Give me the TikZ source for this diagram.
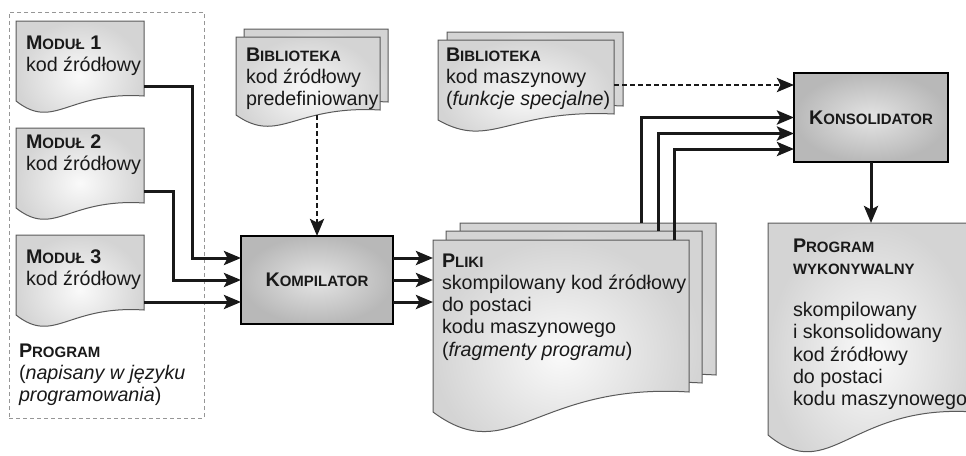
\documentclass[tikz,border=0pt]{standalone}
\usepackage{fontspec}
\setmainfont{Liberation Sans}
\usetikzlibrary{arrows.meta,calc}

\definecolor{docedge}{RGB}{90,90,90}
\definecolor{docin}{RGB}{250,250,250}
\definecolor{docout}{RGB}{212,212,212}
\definecolor{boxin}{RGB}{228,228,228}
\definecolor{boxout}{RGB}{184,184,184}
\definecolor{framegray}{RGB}{150,150,150}
\definecolor{ink}{RGB}{25,25,25}

% bold heading with small-caps tail
\newcommand\hd[2]{\textbf{#1{\fontsize{15pt}{22pt}\selectfont #2}}}
% fixed height of the first text line
\newcommand\fl{\rule{0pt}{16pt}}

% document page: holder node, width, left height, right height, wave depth
\newcommand\docshape[5]{%
  \path[docpage] (#1.north west) -- ++(#2,0) -- ++(0,#4)
    .. controls +(-0.6*#2,-0.5*#5) and +(0.3*#2,3*#5) .. ++(-#2,#3-#4) -- cycle;}

\tikzset{
  every node/.style={inner sep=0pt, outer sep=0pt, text=ink,
    font=\fontsize{19.7pt}{22.3pt}\selectfont},
  holder/.style={anchor=north west, draw=none},
  docpage/.style={draw=docedge, line width=1pt, inner color=docin, outer color=docout},
  txt/.style={anchor=north west, align=left},
  procbox/.style={draw=black, line width=2.8pt, inner color=boxin, outer color=boxout},
  frame/.style={draw=framegray, dash pattern=on 4pt off 3pt, line width=0.9pt,
    anchor=north west},
  tip/.tip={Stealth[length=17pt,width=14pt,inset=3.5pt]},
  conn/.style={draw=ink, line width=3pt, -tip},
  dconn/.style={draw=ink, line width=2.8pt, dash pattern=on 5pt off 3pt, -tip},
}

\begin{document}
\begin{tikzpicture}[x=1pt,y=-1pt]
\useasboundingbox (0,0) rectangle (966,455);
\clip (0,0) rectangle (966,455);

% frame around the source program
\node[frame, minimum width=195pt, minimum height=406pt] (progframe) at (9,12) {};

% page holders
\node[holder, minimum width=128pt, minimum height=80pt] (m1) at (16,21) {};
\node[holder, minimum width=128pt, minimum height=80pt] (m2) at (16,128) {};
\node[holder, minimum width=128pt, minimum height=80pt] (m3) at (16,235) {};
\node[holder, minimum width=144pt, minimum height=78pt] (b1back) at (244,29) {};
\node[holder, minimum width=144pt, minimum height=78pt] (b1) at (236,37) {};
\node[holder, minimum width=176pt, minimum height=80pt] (b2back) at (447,32) {};
\node[holder, minimum width=176pt, minimum height=80pt] (b2) at (438,40) {};
\node[holder, minimum width=256pt, minimum height=172pt] (pl3) at (460,223) {};
\node[holder, minimum width=256pt, minimum height=172pt] (pl2) at (446,231) {};
\node[holder, minimum width=256pt, minimum height=172pt] (pl1) at (433,240) {};
\node[holder, minimum width=206pt, minimum height=212pt] (exe) at (768,223) {};

% pages
\docshape{m1}{128}{80}{75}{10}
\docshape{m2}{128}{80}{75}{10}
\docshape{m3}{128}{80}{75}{10}
\docshape{b1back}{144}{78}{73}{10}
\docshape{b1}{144}{78}{73}{10}
\docshape{b2back}{176}{80}{74}{10}
\docshape{b2}{176}{80}{74}{10}
\docshape{pl3}{256}{172}{152}{19}
\docshape{pl2}{256}{172}{152}{19}
\docshape{pl1}{256}{172}{152}{19}
\docshape{exe}{206}{212}{189}{17}

% processing blocks
\node[procbox, minimum width=152pt, minimum height=88pt] (komp) at (317,280) {\hd{K}{OMPILATOR}};
\node[procbox, minimum width=154pt, minimum height=89pt] (kons) at (871,117.5) {\hd{K}{ONSOLIDATOR}};

% texts
\node[txt] (m1t) at (26,33) {\fl\hd{M}{ODUŁ}\textbf{ 1}\\kod źródłowy};
\node[txt] (m2t) at (26,132) {\fl\hd{M}{ODUŁ}\textbf{ 2}\\kod źródłowy};
\node[txt] (m3t) at (26,247) {\fl\hd{M}{ODUŁ}\textbf{ 3}\\kod źródłowy};
\node[txt] (progt) at (19,341) {\fl\hd{P}{ROGRAM}\\(\textit{napisany w języku}\\\textit{programowania})};
\node[txt] (b1t) at (246,45) {\fl\hd{B}{IBLIOTEKA}\\kod źródłowy\\predefiniowany};
\node[txt] (b2t) at (446,45) {\fl\hd{B}{IBLIOTEKA}\\kod maszynowy\\(\textit{funkcje specjalne})};
\node[txt] (plt) at (442,251) {\fl\hd{P}{LIKI}\\skompilowany kod źródłowy\\do postaci\\kodu maszynowego\\(\textit{fragmenty programu})};
\node[txt] (exet) at (793,236) {\fl\hd{P}{ROGRAM}\\\textbf{\fontsize{15pt}{22pt}\selectfont WYKONYWALNY}\\[20pt]skompilowany\\i skonsolidowany\\kod źródłowy\\do postaci\\kodu maszynowego};

% modules into the compiler
\coordinate (k1) at ([yshift=22pt]komp.west);
\coordinate (m3p) at ([yshift=-67pt]m3.north east);
\draw[conn] ([yshift=-65pt]m1.north east) -| ([xshift=-49pt]k1) -- (k1);
\draw[conn] ([yshift=-63pt]m2.north east) -| ([xshift=-68pt]komp.west) -- (komp.west);
\draw[conn] (m3p) -- (m3p -| komp.west);
\draw[dconn] (komp.north |- b1.south) -- (komp.north);

% compiler into the object files
\coordinate (o1) at ([yshift=22pt]komp.east);
\coordinate (o3) at ([yshift=-22pt]komp.east);
\draw[conn] (o1) -- (o1 -| pl1.west);
\draw[conn] (komp.east) -- (komp.east -| pl1.west);
\draw[conn] (o3) -- (o3 -| pl1.west);

% object files and library into the linker
\coordinate (b2p) at ([yshift=-45pt]b2.north east);
\draw[dconn] (b2p) -- (b2p -| kons.west);
\draw[conn] ([xshift=181pt]pl3.north west) |- (kons.west);
\draw[conn] ([xshift=212pt]pl2.north west) |- ([yshift=-16pt]kons.west);
\draw[conn] ([xshift=241pt]pl1.north west) |- ([yshift=-31.5pt]kons.west);

% linker to executable
\draw[conn] (kons.south) -- (exe.north);
\end{tikzpicture}
\end{document}
